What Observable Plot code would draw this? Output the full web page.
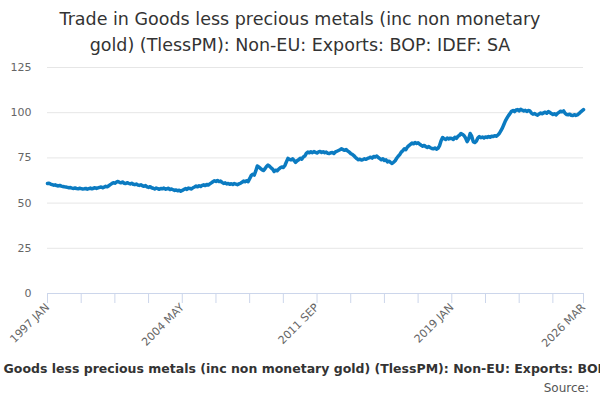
<!DOCTYPE html>
<html><head><meta charset="utf-8">
<script src="https://cdn.jsdelivr.net/npm/d3@7"></script>
<script src="https://cdn.jsdelivr.net/npm/@observablehq/plot@0.6"></script>
<style>
body{margin:0;font-family:"DejaVu Sans",sans-serif;}
#wrap{width:600px;height:400px;overflow:hidden;position:relative;background:#fff;}
#title{height:58px;text-align:center;font-size:17.5px;line-height:26px;color:#333;padding-top:6px;box-sizing:border-box;}
#cap{position:absolute;top:361px;left:50%;transform:translateX(calc(-50% + 9px));white-space:nowrap;font-size:12.5px;font-weight:bold;color:#333;}
#src{position:absolute;top:381px;right:11px;font-size:12px;color:#555;}
</style></head><body>
<div id="wrap">
<div id="title">Trade in Goods less precious metals (inc non monetary<br>gold) (TlessPM): Non-EU: Exports: BOP: IDEF: SA</div>
<div id="chart"></div>
<div id="cap">Trade in Goods less precious metals (inc non monetary gold) (TlessPM): Non-EU: Exports: BOP: IDEF: SA</div>
<div id="src">Source:</div>
</div>
<script>
const startYear = 1997;
const values = [
60.8,61.0,60.5,60.2,59.9,60.1,59.7,59.5,59.8,59.4,59.2,59.0,
58.9,58.7,58.5,58.6,58.3,58.1,58.4,58.0,57.9,58.2,58.0,57.8,
57.9,58.1,57.7,58.0,58.3,57.9,58.2,58.5,58.1,58.4,58.7,58.9,
58.5,58.8,59.3,59.0,59.6,60.2,60.8,61.3,61.0,61.6,62.0,61.5,
61.2,61.7,61.0,60.8,61.3,60.9,60.6,61.0,60.4,60.2,60.5,60.0,
59.8,60.1,59.6,59.3,59.7,59.0,58.7,59.1,58.5,58.2,57.8,58.3,
58.0,57.6,58.1,57.9,58.3,57.7,57.9,58.2,57.5,57.8,57.4,57.0,
57.3,56.8,57.1,56.6,57.0,57.5,58.0,57.6,58.3,58.1,57.8,58.5,
58.9,59.4,59.0,59.6,59.2,59.8,60.1,59.7,60.3,60.0,60.6,61.2,
61.8,62.3,62.0,62.5,61.9,62.2,61.5,60.9,61.2,60.6,60.9,60.4,
60.7,60.3,60.8,60.5,60.2,60.6,61.0,61.5,62.2,61.8,62.3,61.9,
63.5,65.2,66.0,65.5,67.8,70.5,70.0,69.2,68.5,68.0,69.0,70.2,
71.0,70.4,69.5,68.8,67.5,68.2,67.9,68.8,69.5,70.0,69.7,70.8,
72.8,74.7,74.2,73.9,74.5,73.6,72.5,73.4,74.0,74.8,74.3,75.5,
76.0,77.5,78.2,77.8,78.4,77.9,78.5,78.1,77.7,78.3,78.6,78.0,
78.4,77.9,78.2,77.6,77.4,77.9,78.0,77.5,78.3,78.7,79.1,79.5,
80.0,79.6,79.2,79.6,78.8,78.3,77.4,77.0,76.3,75.4,74.6,74.0,
74.3,73.8,74.1,74.5,74.2,74.7,75.0,75.4,74.9,75.8,75.5,76.0,
75.2,74.6,74.0,74.5,73.6,73.9,72.8,73.2,72.5,71.9,72.6,73.4,
74.8,75.9,76.8,78.2,79.0,80.0,79.6,81.0,81.8,82.5,83.2,82.8,
83.5,83.0,83.4,82.6,82.0,81.5,81.9,81.2,80.8,81.3,80.6,80.2,
80.0,80.5,79.8,80.3,81.8,84.5,86.3,85.6,85.2,86.0,85.5,85.9,
85.7,85.2,86.4,85.8,86.9,87.5,88.5,88.0,87.3,86.0,84.0,85.5,
88.5,87.0,84.0,83.5,84.2,86.0,86.8,86.2,86.5,86.0,86.6,86.3,
86.8,86.4,87.0,86.8,87.3,87.0,87.6,88.5,90.0,91.5,93.5,95.5,
97.0,98.4,99.5,100.8,101.2,100.6,101.5,101.7,101.0,101.9,101.4,101.0,
101.3,100.7,101.2,101.0,99.8,99.2,99.5,99.0,98.6,99.3,99.8,99.4,
99.9,100.3,99.7,100.6,100.2,99.5,99.0,99.4,98.8,99.6,100.2,100.8,
100.5,101.0,99.6,99.0,98.8,99.2,98.6,98.4,98.9,98.5,98.8,99.5,
100.3,101.0,101.7
];
const monthNames = ["JAN","FEB","MAR","APR","MAY","JUN","JUL","AUG","SEP","OCT","NOV","DEC"];
const yTicks = [0,25,50,75,100,125];
const labelIdx = [0,88,176,264,350];
const data = values.map((v,i)=>({i, v}));
const fmt = i => `${startYear+Math.floor(i/12)} ${monthNames[i%12]}`;
const tickIdx = d3.range(0,350,22).concat([350]);
const chart = Plot.plot({
  width:600, height:290,
  marginTop:9, marginBottom:55, marginLeft:47, marginRight:17,
  style:{fontFamily:"DejaVu Sans, sans-serif", fontSize:"11px", color:"#666"},
  x:{domain:[0,350], label:null},
  y:{domain:[0,125], label:null},
  marks:[
    Plot.gridY(yTicks,{stroke:"#e6e6e6", strokeOpacity:1}),
    Plot.ruleY([0],{stroke:"#ccd6eb"}),
    Plot.axisX({ticks:tickIdx, tickFormat:i=>labelIdx.includes(i)?fmt(i):"", tickRotate:-45, stroke:"#ccd6eb", tickSize:10, tickPadding:2, fill:"#666", fontSize:11}),
    Plot.axisY({ticks:yTicks, tickSize:0, tickPadding:16, fill:"#666", fontSize:11}),
    Plot.line(data,{x:"i", y:"v", stroke:"#0b7bc1", strokeWidth:3.5, strokeLinejoin:"round"})
  ]
});
document.getElementById("chart").appendChild(chart);
</script>
</body></html>
